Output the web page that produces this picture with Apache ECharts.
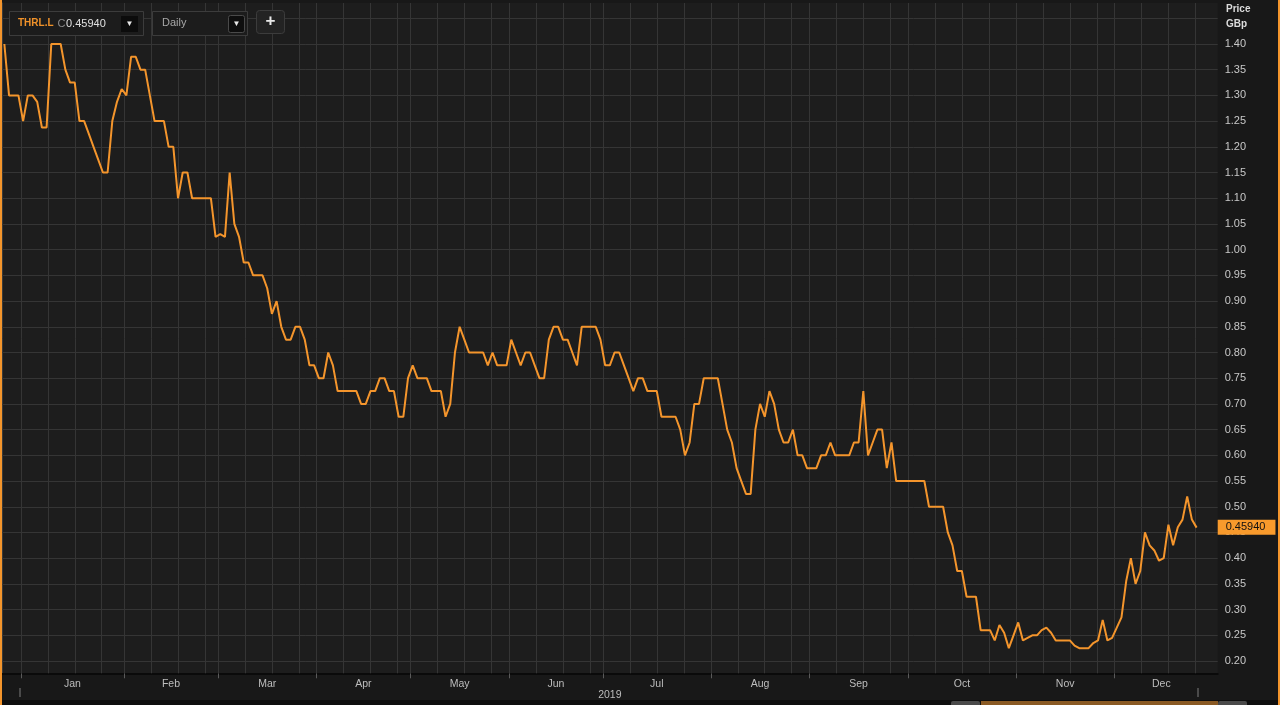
<!DOCTYPE html>
<html><head><meta charset="utf-8">
<script src="https://cdn.jsdelivr.net/npm/echarts@6/dist/echarts.min.js"></script>
<style>html,body{margin:0;padding:0;background:#181818;}#c{width:1280px;height:705px;}</style>
</head><body><div id="c"></div><script>
// ---------- data ----------
const monthNames = ['Jan','Feb','Mar','Apr','May','Jun','Jul','Aug','Sep','Oct','Nov','Dec'];
const yearLabel = '2019';
const ticker = 'THRL.L';
const lastPriceText = '0.45940';
const intervalText = 'Daily';
const holidays = ['2018-12-25','2018-12-26','2019-01-01','2019-04-19','2019-04-22','2019-05-06','2019-05-27','2019-08-26','2019-12-25','2019-12-26','2020-01-01'];
const firstDay = '2018-12-24';
const lastDay = '2020-01-03';
const priceTicks = [0.20,0.25,0.30,0.35,0.40,0.45,0.50,0.55,0.60,0.65,0.70,0.75,0.80,0.85,0.90,0.95,1.00,1.05,1.10,1.15,1.20,1.25,1.30,1.35,1.40];
const extraGridPrices = [1.45];
const price = [
 1.40,1.30,1.30,1.30,1.25,1.30,1.30,1.2875,1.2375,1.2375,
 1.40,1.40,1.40,1.35,1.325,1.325,1.25,1.25,1.225,1.20,
 1.175,1.15,1.15,1.25,1.2875,1.3125,1.30,1.375,1.375,1.35,
 1.35,1.30,1.25,1.25,1.25,1.20,1.20,1.10,1.15,1.15,
 1.10,1.10,1.10,1.10,1.10,1.025,1.03,1.025,1.15,1.05,
 1.025,0.975,0.975,0.95,0.95,0.95,0.925,0.875,0.90,0.85,
 0.825,0.825,0.85,0.85,0.825,0.775,0.775,0.75,0.75,0.80,
 0.775,0.725,0.725,0.725,0.725,0.725,0.70,0.70,0.725,0.725,
 0.75,0.75,0.725,0.725,0.675,0.675,0.75,0.775,0.75,0.75,
 0.75,0.725,0.725,0.725,0.675,0.70,0.80,0.85,0.825,0.80,
 0.80,0.80,0.80,0.775,0.80,0.775,0.775,0.775,0.825,0.80,
 0.775,0.80,0.80,0.775,0.75,0.75,0.825,0.85,0.85,0.825,
 0.825,0.80,0.775,0.85,0.85,0.85,0.85,0.825,0.775,0.775,
 0.80,0.80,0.775,0.75,0.725,0.75,0.75,0.725,0.725,0.725,
 0.675,0.675,0.675,0.675,0.65,0.60,0.625,0.70,0.70,0.75,
 0.75,0.75,0.75,0.70,0.65,0.625,0.575,0.55,0.525,0.525,
 0.65,0.70,0.675,0.725,0.70,0.65,0.625,0.625,0.65,0.60,
 0.60,0.575,0.575,0.575,0.60,0.60,0.625,0.60,0.60,0.60,
 0.60,0.625,0.625,0.725,0.60,0.625,0.65,0.65,0.575,0.625,
 0.55,0.55,0.55,0.55,0.55,0.55,0.55,0.50,0.50,0.50,
 0.50,0.45,0.425,0.375,0.375,0.325,0.325,0.325,0.26,0.26,
 0.26,0.24,0.27,0.255,0.225,0.25,0.275,0.24,0.245,0.25,
 0.25,0.26,0.265,0.255,0.24,0.24,0.24,0.24,0.23,0.225,
 0.225,0.225,0.235,0.24,0.28,0.24,0.245,0.265,0.285,0.355,
 0.40,0.35,0.375,0.45,0.425,0.415,0.395,0.40,0.465,0.425,
 0.46,0.475,0.52,0.475,0.4594
];

// ---------- derived ----------
function tradingDays(){
  const out=[]; let d=new Date(firstDay+'T00:00:00Z'); const end=new Date(lastDay+'T00:00:00Z');
  while(d<=end){ const s=d.toISOString().slice(0,10); const wd=d.getUTCDay();
    if(wd!==0&&wd!==6&&holidays.indexOf(s)<0) out.push(s); d=new Date(d.getTime()+86400000);} return out;
}
const days = tradingDays();
const xMax = days.length;
const monthFirst=[], monthLast=[];
for(let m=0;m<12;m++){
  const key=yearLabel+'-'+String(m+1).padStart(2,'0');
  let f=-1,l=-1; days.forEach((s,i)=>{ if(s.startsWith(key)){ if(f<0)f=i; l=i; } });
  monthFirst.push(f); monthLast.push(l);
}
const nextYearStart = days.findIndex(s=>s>yearLabel+'-12-31');
const monthMids = monthFirst.map((f,m)=>(f+monthLast[m]+1)/2);
const vLines=[];
for(let m=0;m<12;m++){
  const next = m<11?monthFirst[m+1]:nextYearStart;
  for(let p=monthFirst[m]; p<next-0.01; p+=5.75) vLines.push(p);
}
const yMin=0.1761, yMax=1.4797;
const ORANGE='#f4952c';
const FONT='"Liberation Sans", Arial, sans-serif';

const chart = echarts.init(document.getElementById('c'), null, {renderer:'canvas'});
chart.setOption({
  animation:false,
  backgroundColor:'#181818',
  textStyle:{fontFamily:FONT},
  grid:{left:2,right:62.3,top:3,bottom:31.7,show:true,backgroundColor:'#1d1d1d',borderWidth:0},
  xAxis:[{
    type:'value',min:0,max:xMax,position:'bottom',
    axisLine:{show:true,lineStyle:{color:'#0a0a0a',width:2}},
    axisTick:{show:true,customValues:monthFirst,length:5,lineStyle:{color:'#5a5a5a'}},
    axisLabel:{show:true,customValues:monthMids,color:'#bdbdbd',fontSize:10.5,margin:5,
      formatter:v=>{let best=0,bd=1e9;monthMids.forEach((mm,i)=>{const dd=Math.abs(mm-v);if(dd<bd){bd=dd;best=i;}});return monthNames[best];}},
    splitLine:{show:false}
  },{
    type:'value',min:0,max:xMax,position:'bottom',
    axisLine:{show:false},axisTick:{show:false},splitLine:{show:false},
    axisLabel:{show:true,customValues:[xMax/2],color:'#bdbdbd',fontSize:10.5,margin:16,formatter:()=>yearLabel}
  }],
  yAxis:{
    type:'value',position:'right',min:yMin,max:yMax,
    axisLine:{show:true,lineStyle:{color:'#3a3a3a',width:1}},
    axisTick:{show:true,customValues:priceTicks,length:4,lineStyle:{color:'#707070'}},
    axisLabel:{show:true,customValues:priceTicks,color:'#c8c8c8',fontSize:11,margin:7,formatter:v=>v.toFixed(2)},
    splitLine:{show:false}
  },
  series:[{
    type:'line',data:[],z:1,silent:true,
    markLine:{silent:true,symbol:['none','none'],animation:false,z:1,label:{show:false},
      lineStyle:{color:'#353535',width:1,type:'solid'},emphasis:{disabled:true},
      data:[...vLines.map(v=>({xAxis:v})),...priceTicks.concat(extraGridPrices).map(p=>({yAxis:p})),{yAxis:yMax}]}
  },{
    type:'line',data:price.map((v,i)=>[i+0.5,v]),showSymbol:false,symbol:'none',z:3,
    lineStyle:{color:ORANGE,width:2},
    markLine:{silent:true,symbol:['none','none'],animation:false,z:10,
      lineStyle:{color:'rgba(0,0,0,0)',width:0},
      emphasis:{disabled:true},
      label:{show:true,position:'end',distance:0,formatter:lastPriceText,backgroundColor:'#f89a2c',color:'#111',
        fontSize:11,fontFamily:FONT,padding:[2,10,2,8]},
      data:[{yAxis:price[price.length-1]}]}
  }],
  graphic:[
    {type:'rect',shape:{x:0,y:0,width:2,height:705},style:{fill:ORANGE},z:100},
    {type:'rect',shape:{x:1278,y:0,width:2,height:705},style:{fill:ORANGE},z:100},
    {type:'rect',shape:{x:2,y:700,width:1276,height:5},style:{fill:'#0e0e0e'},z:100},
    {type:'rect',shape:{x:951,y:701,width:29,height:6,r:2},style:{fill:'#4a4a4a'},z:101},
    {type:'rect',shape:{x:981,y:701,width:237,height:6},style:{fill:'#8a5a24'},z:101},
    {type:'rect',shape:{x:1218,y:701,width:29,height:6,r:2},style:{fill:'#4a4a4a'},z:101},
    {type:'line',shape:{x1:20,y1:688,x2:20,y2:697},style:{stroke:'#4a4a4a',lineWidth:2},z:100},
    {type:'line',shape:{x1:1198,y1:688,x2:1198,y2:697},style:{stroke:'#4a4a4a',lineWidth:2},z:100},
    {type:'text',style:{text:'Price',x:1226,y:9,fill:'#dcdcdc',font:'bold 10px '+FONT,textVerticalAlign:'middle'},z:100},
    {type:'text',style:{text:'GBp',x:1226,y:24,fill:'#dcdcdc',font:'bold 10px '+FONT,textVerticalAlign:'middle'},z:100},
    // toolbar
    {type:'rect',shape:{x:9.5,y:11.5,width:134,height:24},style:{fill:'#1c1c1c',stroke:'#3c3c3c',lineWidth:1},z:100},
    {type:'text',style:{text:ticker,x:18,y:23.5,fill:'#f0922a',font:'bold 10px '+FONT,textVerticalAlign:'middle'},z:101},
    {type:'text',style:{text:'C',x:57.5,y:23.5,fill:'#8a8a8a',font:'11px '+FONT,textVerticalAlign:'middle'},z:101},
    {type:'text',style:{text:lastPriceText,x:66,y:23.5,fill:'#e0e0e0',font:'11px '+FONT,textVerticalAlign:'middle'},z:101},
    {type:'rect',shape:{x:121,y:16,width:17,height:16},style:{fill:'#0c0c0c'},z:101},
    {type:'text',style:{text:'▼',x:129.5,y:24,fill:'#e8e8e8',font:'8px '+FONT,textAlign:'center',textVerticalAlign:'middle'},z:102},
    {type:'rect',shape:{x:152.5,y:11.5,width:95,height:24},style:{fill:'#1c1c1c',stroke:'#3c3c3c',lineWidth:1},z:100},
    {type:'text',style:{text:intervalText,x:162,y:23,fill:'#a8a8a8',font:'11px '+FONT,textVerticalAlign:'middle'},z:101},
    {type:'rect',shape:{x:228.5,y:15.5,width:16,height:17,r:2},style:{fill:'#0e0e0e',stroke:'#4a4a4a',lineWidth:1},z:101},
    {type:'text',style:{text:'▼',x:236.5,y:24,fill:'#e8e8e8',font:'8px '+FONT,textAlign:'center',textVerticalAlign:'middle'},z:102},
    {type:'rect',shape:{x:256.5,y:10.5,width:28,height:23,r:3},style:{fill:'#232323',stroke:'#3c3c3c',lineWidth:1},z:100},
    {type:'text',style:{text:'+',x:270.5,y:21.5,fill:'#e8e8e8',font:'bold 17px '+FONT,textAlign:'center',textVerticalAlign:'middle'},z:101}
  ]
});
</script></body></html>
